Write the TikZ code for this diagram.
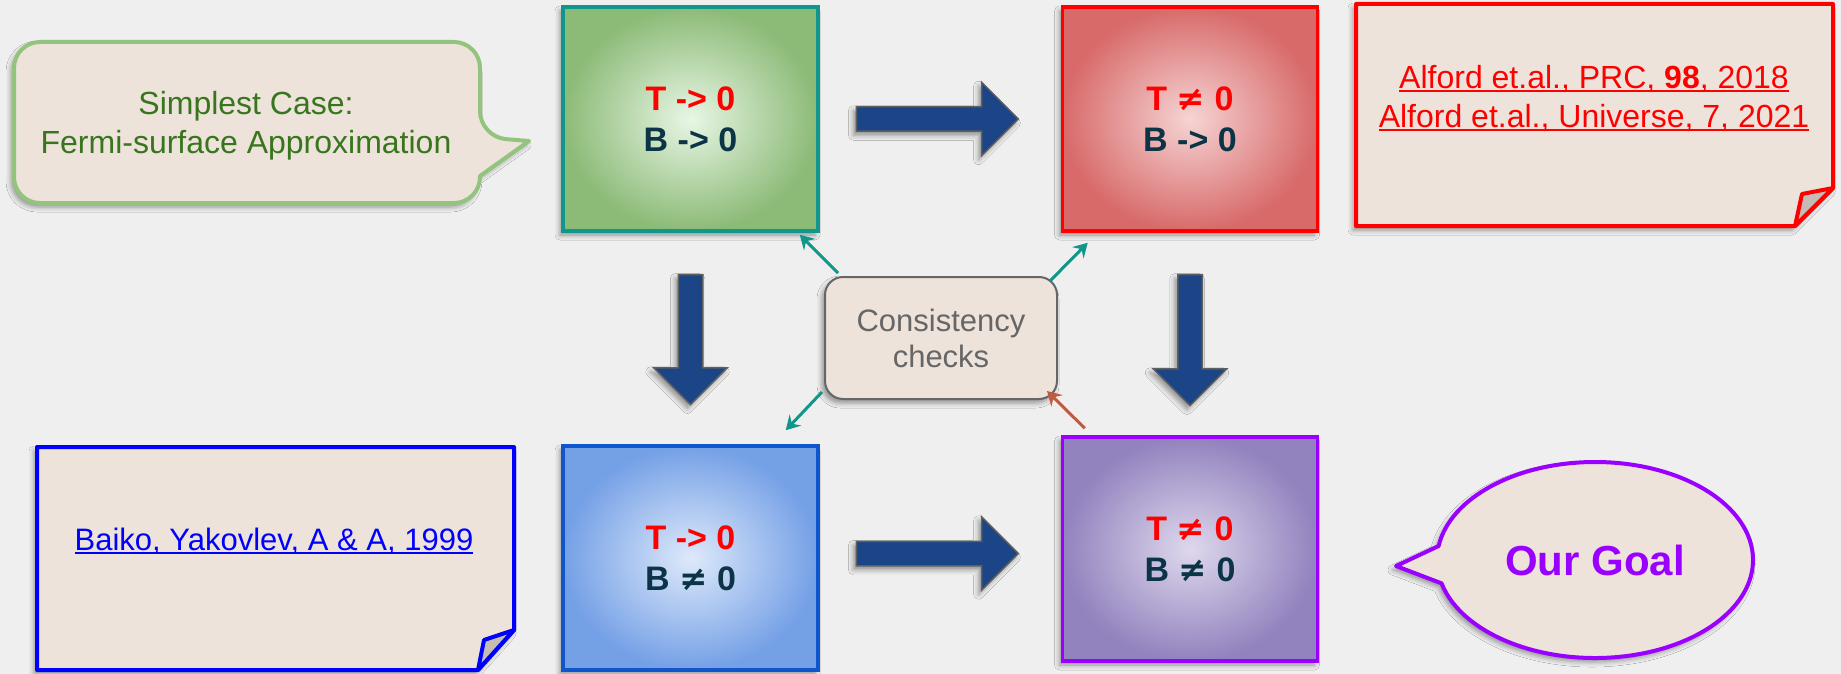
\documentclass[tikz,border=0pt]{standalone}
\usepackage{fontspec}
\setmainfont{Liberation Sans}
\newfontfamily\symfont{DejaVu Sans}
\usetikzlibrary{arrows.meta,calc,shapes.arrows,shapes.callouts,shadows.blur}

\definecolor{bgcol}{HTML}{EFEFEF}
\definecolor{notefill}{HTML}{EDE3DB}
\definecolor{foldfill}{HTML}{C5BCB5}
\definecolor{navy}{HTML}{0C3447}
\definecolor{arrowblue}{HTML}{1C4587}
\definecolor{arrowedge}{HTML}{5F5F5F}
\definecolor{checkteal}{HTML}{10968A}
\definecolor{checkbrown}{HTML}{BF5B40}
\definecolor{grassgreen}{HTML}{38761D}
\definecolor{lightgreen}{HTML}{93C47D}
\definecolor{goalpurple}{HTML}{9900FF}
\definecolor{boxgray}{HTML}{666666}
\definecolor{boxblue}{HTML}{1155CC}

\newsavebox\lnkbox
\newcommand{\ulnk}[1]{\sbox\lnkbox{#1}\rlap{\rule[-3.5pt]{\wd\lnkbox}{1.8pt}}\usebox\lnkbox}
\newcommand{\nq}{{\symfont\bfseries ≠}}

\tikzset{
  soft/.style={blur shadow={shadow xshift=-3pt, shadow yshift=-4pt, shadow blur radius=5pt, shadow opacity=40}},
  regime/.style={draw=#1, line width=3.5pt, minimum width=255pt, minimum height=224pt,
    inner sep=0pt, align=center, text=navy, shading=radial, soft,
    font=\bfseries\fontsize{34}{41}\selectfont},
  bigarrow/.style={single arrow, draw=arrowedge, line width=1.5pt, fill=arrowblue,
    single arrow head extend=24.5pt, inner xsep=0pt, inner ysep=11.5pt, soft},
  note/.style={draw=#1, fill=notefill, line width=4pt, line join=round, soft},
  fold/.style={draw=#1, fill=foldfill, line width=4pt, line join=round},
  check/.style={draw=#1, line width=3pt, -{Stealth[length=14pt,width=16pt,inset=5pt]}},
  txt/.style={font=\fontsize{32}{39}\selectfont, align=center},
}

\begin{document}
\begin{tikzpicture}[x=1pt,y=-1pt]
  \fill[bgcol] (0,0) rectangle (1841,674);
  \useasboundingbox (0,0) rectangle (1841,674);

  % four regimes
  \node[regime=checkteal, inner color=green!3!white!85!lightgreen, outer color=lightgreen!95!black] (green) at (690.5,119) {{\color{red}T -> 0}\\B -> 0};
  \node[regime=red, inner color={rgb,255:red,246;green,212;blue,212}, outer color={rgb,255:red,216;green,106;blue,106}] (red) at (1190,119) {{\color{red}T \nq{} 0}\\B -> 0};
  \node[regime=boxblue, inner color={rgb,255:red,222;green,233;blue,250}, outer color={rgb,255:red,116;green,160;blue,230}] (blue) at (690.5,558) {{\color{red}T -> 0}\\B \nq{} 0};
  \node[regime=goalpurple, inner color={rgb,255:red,222;green,216;blue,236}, outer color={rgb,255:red,146;green,130;blue,190}] (purple) at (1190,549) {{\color{red}T \nq{} 0}\\B \nq{} 0};

  % block arrows
  \node[bigarrow, minimum height=162pt] (gr) at ($(green)!0.5!(red)+(-9,0)$) {};
  \node[bigarrow, minimum height=162pt] (bp) at ($(blue)!0.5!(purple)+(-9,0)$) {};
  \node[bigarrow, minimum height=130pt, rotate=-90] (gb) at ($(green)!0.5!(blue)+(0,-5)$) {};
  \node[bigarrow, minimum height=131pt, rotate=-90] (rp) at ($(red)!0.5!(purple)$) {};

  % consistency checks
  \node[draw=boxgray, line width=2pt, fill=notefill, rounded corners=18pt, minimum width=232pt,
    minimum height=122pt, text=boxgray, txt, font=\fontsize{31}{36}\selectfont, soft] (cc) at (941,338) {Consistency\\checks};
  \draw[check=checkteal] ([shift={(14,-3)}]cc.north west) -- ([shift={(-20,2)}]green.south east);
  \draw[check=checkteal] ([shift={(-8,5)}]cc.north east) -- ([shift={(27,10)}]red.south west);
  \draw[check=checkteal] ([shift={(-2,-8)}]cc.south west) -- ([shift={(-34,-14)}]blue.north east);
  \draw[check=checkbrown] ([shift={(24,-7)}]purple.north west) -- ([shift={(-11,-9)}]cc.south east);

  % speech bubbles
  \draw[note=lightgreen] (200,42) [rounded corners=26pt] -- (480,42) -- (480,137) [sharp corners] -- (529,141)
    -- (480,176) [rounded corners=26pt] -- (480,203) -- (14,203) -- (14,42) -- cycle;
  \node[txt, text=grassgreen] (simplest) at (246,126) {Simplest Case:\\Fermi-surface Approximation};
  \node[ellipse callout, callout absolute pointer={(1396,566)}, callout pointer arc=22, note=goalpurple,
    minimum width=316pt, minimum height=196pt, inner sep=0pt, text=goalpurple,
    font=\bfseries\fontsize{42}{48}\selectfont] (goal) at (1595,560) {Our Goal};

  % references
  \draw[note=red] (1356,4) -- (1833,4) -- (1833,188) -- (1795,226) -- (1356,226) -- cycle;
  \draw[fold=red] (1833,188) -- (1802,194) -- (1795,226) -- cycle;
  \node[txt, text=red] (alford) at (1594,98) {\ulnk{Alford et.al., PRC, \textbf{98}, 2018}\\\ulnk{Alford et.al., Universe, 7, 2021}};
  \draw[note=blue] (37,447) -- (514,447) -- (514,630) -- (478,670) -- (37,670) -- cycle;
  \draw[fold=blue] (514,630) -- (484,640) -- (478,670) -- cycle;
  \node[txt, text=blue, font=\fontsize{31}{38}\selectfont] (baiko) at (274,541) {\ulnk{Baiko, Yakovlev, A \& A, 1999}};
\end{tikzpicture}
\end{document}
